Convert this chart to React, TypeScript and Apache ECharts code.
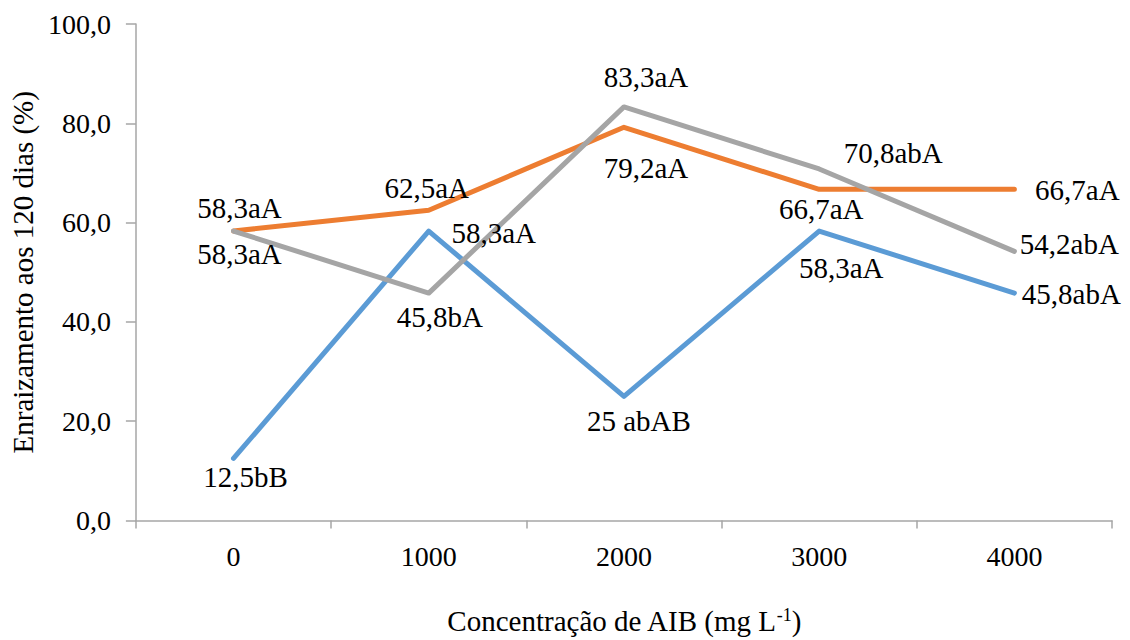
import React, { useEffect, useRef } from "react";
import * as echarts from "echarts";

const categories = ["0", "1000", "2000", "3000", "4000"];
const yTicks = [0, 20, 40, 60, 80, 100];

const blueValues = [12.5, 58.3, 25, 58.3, 45.8];
const orangeValues = [58.3, 62.5, 79.2, 66.7, 66.7];
const grayValues = [58.3, 45.8, 83.3, 70.8, 54.2];

const blueLabels = ["12,5bB", "58,3aA", "25 abAB", "58,3aA", "45,8abA"];
const orangeLabels = ["58,3aA", "62,5aA", "79,2aA", "66,7aA", "66,7aA"];
const grayLabels = ["58,3aA", "45,8bA", "83,3aA", "70,8abA", "54,2abA"];

// label placement offsets (px) relative to each point
const blueOffsets = [[12, 19], [65, 2], [15, 25], [22, 37], [57, 1]];
const orangeOffsets = [[6, -23], [-2, -22], [22, 41], [2, 20], [63, 1]];
const grayOffsets = [[6, 23], [11, 24], [22, -30], [74, -16], [55, -7]];

const FONT = "Liberation Serif";
const FS = 29;

function buildSeries(name: string, values: number[], labels: string[], offsets: number[][], color: string) {
  return {
    name,
    type: "line",
    symbol: "circle",
    symbolSize: 0.5,
    showSymbol: true,
    itemStyle: { color },
    lineStyle: { color, width: 5, cap: "round", join: "round" },
    silent: true,
    data: values.map((v, i) => ({
      value: v,
      label: {
        show: true,
        position: "inside",
        align: "center",
        verticalAlign: "middle",
        offset: offsets[i],
        formatter: labels[i],
        color: "#000",
        fontFamily: FONT,
        fontSize: FS,
      },
    })),
  };
}

export default function App() {
  const ref = useRef<HTMLDivElement>(null);
  useEffect(() => {
    if (!ref.current) return;
    const chart = echarts.init(ref.current, undefined, { renderer: "svg" });
    chart.setOption({
      animation: false,
      backgroundColor: "#fff",
      textStyle: { fontFamily: FONT },
      grid: { left: 130, right: 18, top: 24, bottom: 114, containLabel: false },
      xAxis: {
        type: "category",
        data: categories,
        boundaryGap: true,
        name: "{a|Concentração de AIB (mg L}{sup|-1}{a|)}",
        nameLocation: "middle",
        nameGap: 85,
        nameTextStyle: {
          fontFamily: FONT,
          rich: {
            a: { fontFamily: FONT, fontSize: FS, color: "#000" },
            sup: { fontFamily: FONT, fontSize: 18, color: "#000", padding: [0, 0, 12, 0] },
          },
        },
        axisLine: { lineStyle: { color: "#A6A6A6", width: 1.5 } },
        axisTick: { show: true, length: 8, interval: 0, lineStyle: { color: "#A6A6A6", width: 1.5 } },
        axisLabel: { fontFamily: FONT, fontSize: 28, color: "#000", margin: 22, interval: 0 },
        splitLine: { show: false },
      },
      yAxis: {
        type: "value",
        min: yTicks[0],
        max: yTicks[yTicks.length - 1],
        interval: 20,
        name: "Enraizamento aos 120 dias (%)",
        nameLocation: "middle",
        nameGap: 90,
        nameTextStyle: { fontFamily: FONT, fontSize: FS, color: "#000" },
        axisLine: { show: true, lineStyle: { color: "#A6A6A6", width: 1.5 } },
        axisTick: { show: true, length: 10, lineStyle: { color: "#A6A6A6", width: 1.5 } },
        axisLabel: {
          fontFamily: FONT,
          fontSize: 28,
          color: "#000",
          margin: 25,
          formatter: (v: number) => v.toFixed(1).replace(".", ","),
        },
        splitLine: { show: false },
      },
      series: [
        buildSeries("A", blueValues, blueLabels, blueOffsets, "#5B9BD5"),
        buildSeries("B", orangeValues, orangeLabels, orangeOffsets, "#ED7D31"),
        buildSeries("C", grayValues, grayLabels, grayOffsets, "#A5A5A5"),
      ],
    });
    return () => chart.dispose();
  }, []);
  return (
    <div
      ref={ref}
      style={{ position: "fixed", left: 0, top: 0, width: 1130, height: 640, background: "#fff" }}
    />
  );
}
